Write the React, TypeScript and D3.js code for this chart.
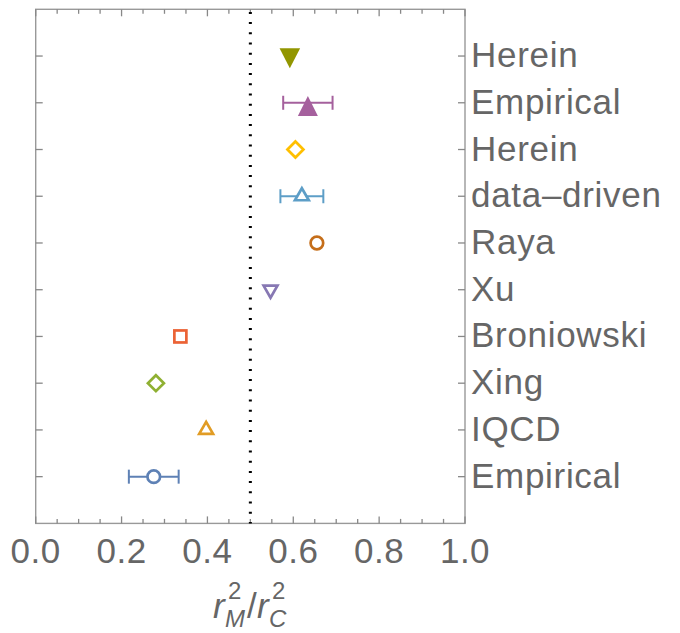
import React from "react";
import * as d3 from "d3";

const labels = ["Herein", "Empirical", "Herein", "data–driven", "Raya", "Xu", "Broniowski", "Xing", "IQCD", "Empirical"];
const values = [0.592, 0.634, 0.605, 0.62, 0.655, 0.547, 0.337, 0.280, 0.397, 0.275];
const errors = [0, 0.0575, 0, 0.05, 0, 0, 0, 0, 0, 0.058];
const shapes = ["triDownFilled", "triUpFilled", "diamond", "triUp", "circle", "triDown", "square", "diamond", "triUp", "circle"];
const colors = ["#929600", "#A5609D", "#FFBF00", "#5D9EC7", "#C56E1A", "#8778B3", "#EB6235", "#8FB032", "#E19C24", "#5E81B5"];
const xTicks = [0, 0.2, 0.4, 0.6, 0.8, 1.0];

const W = 680, H = 633;
const FONT = "'Liberation Sans', Arial, sans-serif";

function Marker({ shape, color }: { shape: string; color: string }) {
  const sw = 2.7;
  switch (shape) {
    case "triDownFilled":
      return <path d="M-10.3,-7.7L10.3,-7.7L0,12.3Z" fill={color} />;
    case "triUpFilled":
      return <path d="M0,-6.7L10,13.3L-10,13.3Z" fill={color} />;
    case "diamond":
      return <path d="M0,-8L8,0L0,8L-8,0Z" fill="white" stroke={color} strokeWidth={sw} />;
    case "triUp":
      return <path d="M0,-8L6.93,4L-6.93,4Z" fill="white" stroke={color} strokeWidth={sw} />;
    case "triDown":
      return <path d="M0,8L6.93,-4L-6.93,-4Z" fill="white" stroke={color} strokeWidth={sw} />;
    case "square":
      return <rect x={-6} y={-6} width={12} height={12} fill="white" stroke={color} strokeWidth={sw} />;
    default:
      return <circle r={6.3} fill="white" stroke={color} strokeWidth={sw} />;
  }
}

export default function App() {
  const x = d3.scaleLinear().domain([0, 1]).range([35.7, 465]);
  const y = d3.scaleLinear().domain([0, 11]).range([9.3, 523.4]);
  const [x0, x1] = x.range();
  const [y0, y1] = y.range();
  const minor = d3.range(0, 1.0001, 0.05);
  const cats = labels.map((_, i) => i + 1);
  const frameColor = "#999";
  const tickColor = "#888";
  const textColor = "#666";

  return (
    <svg width={W} height={H} style={{ position: "absolute", left: 0, top: 0, background: "white" }} fontFamily={FONT}>
      <rect x={0} y={0} width={W} height={H} fill="white" />
      {/* frame */}
      <rect x={x0} y={y0} width={x1 - x0} height={y1 - y0} fill="none" stroke={frameColor} strokeWidth={1.4} />
      {/* x ticks top & bottom */}
      {minor.map((v, i) => {
        const major = i % 4 === 0;
        const len = major ? 7 : 4.5;
        return (
          <g key={"xt" + i} stroke={tickColor} strokeWidth={1.3}>
            <line x1={x(v)} x2={x(v)} y1={y1} y2={y1 - len} />
            <line x1={x(v)} x2={x(v)} y1={y0} y2={y0 + len} />
          </g>
        );
      })}
      {/* y ticks left & right */}
      {cats.map((c) => (
        <g key={"yt" + c} stroke={tickColor} strokeWidth={1.3}>
          <line x1={x0} x2={x0 + 7} y1={y(c)} y2={y(c)} />
          <line x1={x1} x2={x1 - 7} y1={y(c)} y2={y(c)} />
        </g>
      ))}
      {/* x tick labels */}
      {xTicks.map((v) => (
        <text key={"xl" + v} x={x(v)} y={563} textAnchor="middle" fontSize={35} fill={textColor} letterSpacing={0.5}>
          {v.toFixed(1)}
        </text>
      ))}
      {/* category labels */}
      {labels.map((l, i) => (
        <text key={"cl" + i} x={x1 + 6} y={y(i + 1) + 11} fontSize={35} fill={textColor} letterSpacing={0.7}>
          {l}
        </text>
      ))}
      {/* dotted reference line */}
      <line x1={x(0.5)} x2={x(0.5)} y1={y0} y2={y1} stroke="black" strokeWidth={3} strokeDasharray="2 8.2" strokeDashoffset={-2.6} />
      {/* error bars */}
      {values.map((v, i) =>
        errors[i] > 0 ? (
          <g key={"eb" + i} stroke={colors[i]} strokeWidth={2}>
            <line x1={x(v - errors[i])} x2={x(v + errors[i])} y1={y(i + 1)} y2={y(i + 1)} />
            <line x1={x(v - errors[i])} x2={x(v - errors[i])} y1={y(i + 1) - 7} y2={y(i + 1) + 7} />
            <line x1={x(v + errors[i])} x2={x(v + errors[i])} y1={y(i + 1) - 7} y2={y(i + 1) + 7} />
          </g>
        ) : null
      )}
      {/* markers */}
      {values.map((v, i) => (
        <g key={"m" + i} transform={`translate(${x(v)},${y(i + 1)})`}>
          <Marker shape={shapes[i]} color={colors[i]} />
        </g>
      ))}
      {/* axis label r_M^2 / r_C^2 */}
      <text fill={textColor} fontSize={35}>
        <tspan x={213} y={618} fontStyle="italic">r</tspan>
        <tspan x={228} y={599} fontSize={24}>2</tspan>
        <tspan x={225} y={627} fontSize={24} fontStyle="italic">M</tspan>
        <tspan x={247} y={618}>/</tspan>
        <tspan x={257} y={618} fontStyle="italic">r</tspan>
        <tspan x={272} y={599} fontSize={24}>2</tspan>
        <tspan x={269} y={627} fontSize={24} fontStyle="italic">C</tspan>
      </text>
    </svg>
  );
}
